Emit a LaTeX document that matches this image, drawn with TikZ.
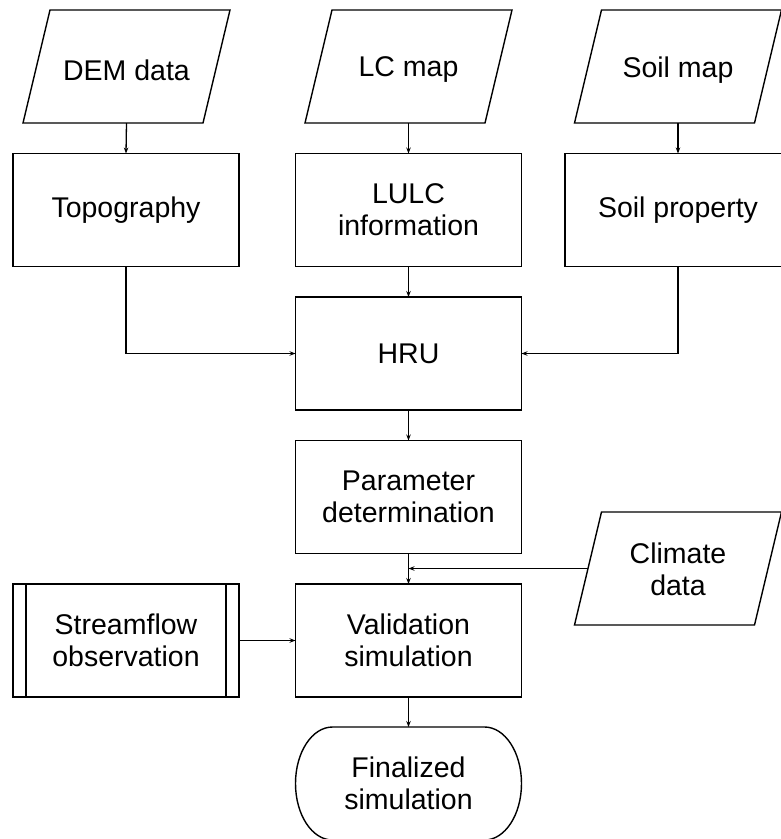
\documentclass[tikz,border=0pt]{standalone}
\usepackage{fontspec}
\setmainfont{Liberation Sans}
\usetikzlibrary{arrows.meta}
\begin{document}
\begin{tikzpicture}[x=1pt,y=-1pt,
  every node/.style={inner sep=0pt,outer sep=0pt,align=center,
    font=\fontsize{28.5}{32}\selectfont},
  procbox/.style={draw,line width=1.4pt,rectangle,minimum width=226pt,minimum height=113pt},
  ghost/.style={rectangle,minimum width=180pt,minimum height=113pt},
  termghost/.style={rectangle,minimum width=226pt,minimum height=113pt},
  conn/.style={line width=1.3pt,-{Stealth[length=6pt,width=4.5pt]}},
  outline/.style={line width=1.4pt,line join=miter}]
\useasboundingbox (0,0) rectangle (781,839);
\clip (0,0) rectangle (781,839);
% input data (parallelograms)
\node[ghost] (dem) at (126.5,66.5) {};
\node[ghost] (lc) at (408.5,66.5) {};
\node[ghost] (soil) at (678,66.5) {};
\node[ghost] (clim) at (678,568.5) {};
\foreach \n in {dem,lc,soil,clim}{
  \draw[outline] ([xshift=13.5pt]\n.north west) -- ([xshift=13.5pt]\n.north east)
    -- ([xshift=-13.5pt]\n.south east) -- ([xshift=-13.5pt]\n.south west) -- cycle;
}
\node at (126.5,70) {DEM data};
\node at (408.5,70) {LC map};
\node at (678,70) {Soil map};
\node at (678,569) {Climate\\data};
% processes
\node[procbox] (topo) at (126,210) {Topography};
\node[procbox] (lulc) at (408.5,210) {LULC\\information};
\node[procbox] (soilp) at (678,210) {Soil property};
\node[procbox] (hru) at (408.5,353.5) {HRU};
\node[procbox] (param) at (408.5,497) {Parameter\\determination};
\node[procbox] (val) at (408.5,640.5) {Validation\\simulation};
\node[procbox] (obs) at (126,640.5) {Streamflow\\observation};
\draw[outline] ([xshift=13pt]obs.north west) -- ([xshift=13pt]obs.south west);
\draw[outline] ([xshift=-13pt]obs.north east) -- ([xshift=-13pt]obs.south east);
\node[termghost] (fin) at (408.5,783.5) {Finalized\\simulation};
\draw[outline] ([xshift=37pt]fin.north west) -- ([xshift=-37pt]fin.north east)
  arc[start angle=90,end angle=-90,x radius=37pt,y radius=56.5pt]
  -- ([xshift=37pt]fin.south west)
  arc[start angle=270,end angle=90,x radius=37pt,y radius=56.5pt] -- cycle;
% connectors
\draw[conn] (dem.south) -- (topo.north);
\draw[conn] (lc.south) -- (lulc.north);
\draw[conn] (soil.south) -- (soilp.north);
\draw[conn] (lulc.south) -- (hru.north);
\draw[conn] (topo.south) |- (hru.west);
\draw[conn] (soilp.south) |- (hru.east);
\draw[conn] (hru.south) -- (param.north);
\draw[conn] (param.south) -- (val.north);
\draw[conn] (clim.west) -- (param.south |- clim.west);
\draw[conn] (obs.east) -- (val.west);
\draw[conn] (val.south) -- (fin.north);
\end{tikzpicture}
\end{document}
